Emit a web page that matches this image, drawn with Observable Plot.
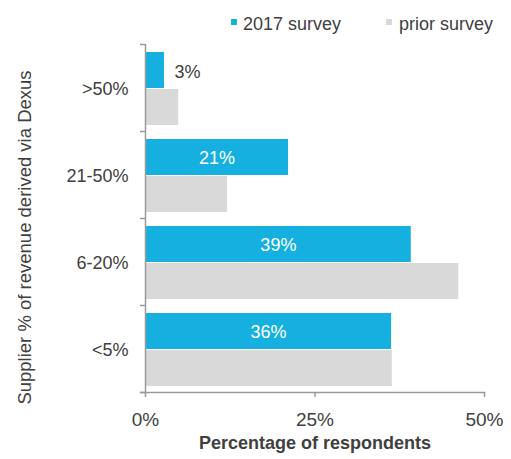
<!DOCTYPE html>
<html>
<head>
<meta charset="utf-8">
<script src="https://cdn.jsdelivr.net/npm/d3@7"></script>
<script src="https://cdn.jsdelivr.net/npm/@observablehq/plot@0.6"></script>
<style>
  html, body { margin: 0; padding: 0; background: #fff; }
  body { width: 511px; height: 459px; overflow: hidden; font-family: "Liberation Sans", Arial, sans-serif; }
  #legend { position: relative; height: 36px; font-size: 18px; color: #404040; line-height: 1; }
  #legend .sw { position: absolute; top: 19px; width: 6px; height: 6px; }
  #legend .lb { position: absolute; top: 15px; white-space: nowrap; }
</style>
</head>
<body>
<div id="legend">
  <div class="sw" style="left:231px;background:#15b0e0"></div>
  <div class="lb" style="left:243px">2017 survey</div>
  <div class="sw" style="left:386px;background:#d9d9d9"></div>
  <div class="lb" style="left:399px">prior survey</div>
</div>
<div id="chart"></div>
<script>
const categories = [">50%", "21-50%", "6-20%", "<5%"];
const survey2017 = [2.8, 21.1, 39.2, 36.3];
const surveyPrior = [4.9, 12.1, 46.2, 36.4];
const labels2017 = ["3%", "21%", "39%", "36%"];
const xTicks = [0, 25, 50];
const xTitle = "Percentage of respondents";
const yTitle = "Supplier % of revenue derived via Dexus";

const rows2017 = categories.map((c, i) => ({cat: c, value: survey2017[i], label: labels2017[i]}));
const rowsPrior = categories.map((c, i) => ({cat: c, value: surveyPrior[i]}));
const axisColor = "#9a9a9a";
const textColor = "#404040";

const chart = Plot.plot({
  width: 511,
  height: 423,
  marginTop: 8,
  marginBottom: 67,
  marginLeft: 145,
  marginRight: 27,
  style: {fontFamily: "Liberation Sans, Arial, sans-serif", color: textColor, background: "#fff"},
  x: {domain: [0, 50]},
  y: {domain: categories, padding: 0},
  marks: [
    Plot.barX(rows2017, {x: "value", y: "cat", fill: "#15b0e0", insetTop: 8, insetBottom: 43}),
    Plot.barX(rowsPrior, {x: "value", y: "cat", fill: "#d9d9d9", insetTop: 45, insetBottom: 6}),
    Plot.text(rows2017.filter(d => d.value >= 10), {x: d => d.value / 2, y: "cat", text: "label", fill: "#fff", fontSize: 18, dy: -16.5}),
    Plot.text(rows2017.filter(d => d.value < 10), {x: "value", y: "cat", text: "label", fill: textColor, fontSize: 18, textAnchor: "start", dx: 10, dy: -15.5}),
    Plot.ruleX([0], {stroke: axisColor, strokeWidth: 1.5}),
    Plot.frame({anchor: "bottom", stroke: axisColor, strokeWidth: 1.5, insetLeft: -5}),
    Plot.axisY({tickSize: 5, tickFormat: () => "", dy: -43.5, stroke: axisColor, strokeWidth: 1.5, label: null}),
    Plot.axisY(categories.slice(-1), {tickSize: 5, tickFormat: () => "", dy: 43.5, stroke: axisColor, strokeWidth: 1.5, label: null}),
    Plot.axisY({tickSize: 0, tickPadding: 17, fontSize: 18, fill: textColor, label: null, dy: 1.5}),
    Plot.axisX({ticks: xTicks, tickSize: 5, tickPadding: 14.5, fontSize: 19, fill: textColor, stroke: axisColor, strokeWidth: 1.5, tickFormat: d => d + "%", label: null}),
    Plot.text([xTitle], {frameAnchor: "bottom", dy: 56, fontSize: 18, fontWeight: "bold", fill: textColor}),
    Plot.text([yTitle], {frameAnchor: "left", textAnchor: "middle", rotate: -90, dx: -120, dy: 19, fontSize: 18.5, fill: textColor})
  ]
});
document.getElementById("chart").appendChild(chart);
</script>
</body>
</html>
